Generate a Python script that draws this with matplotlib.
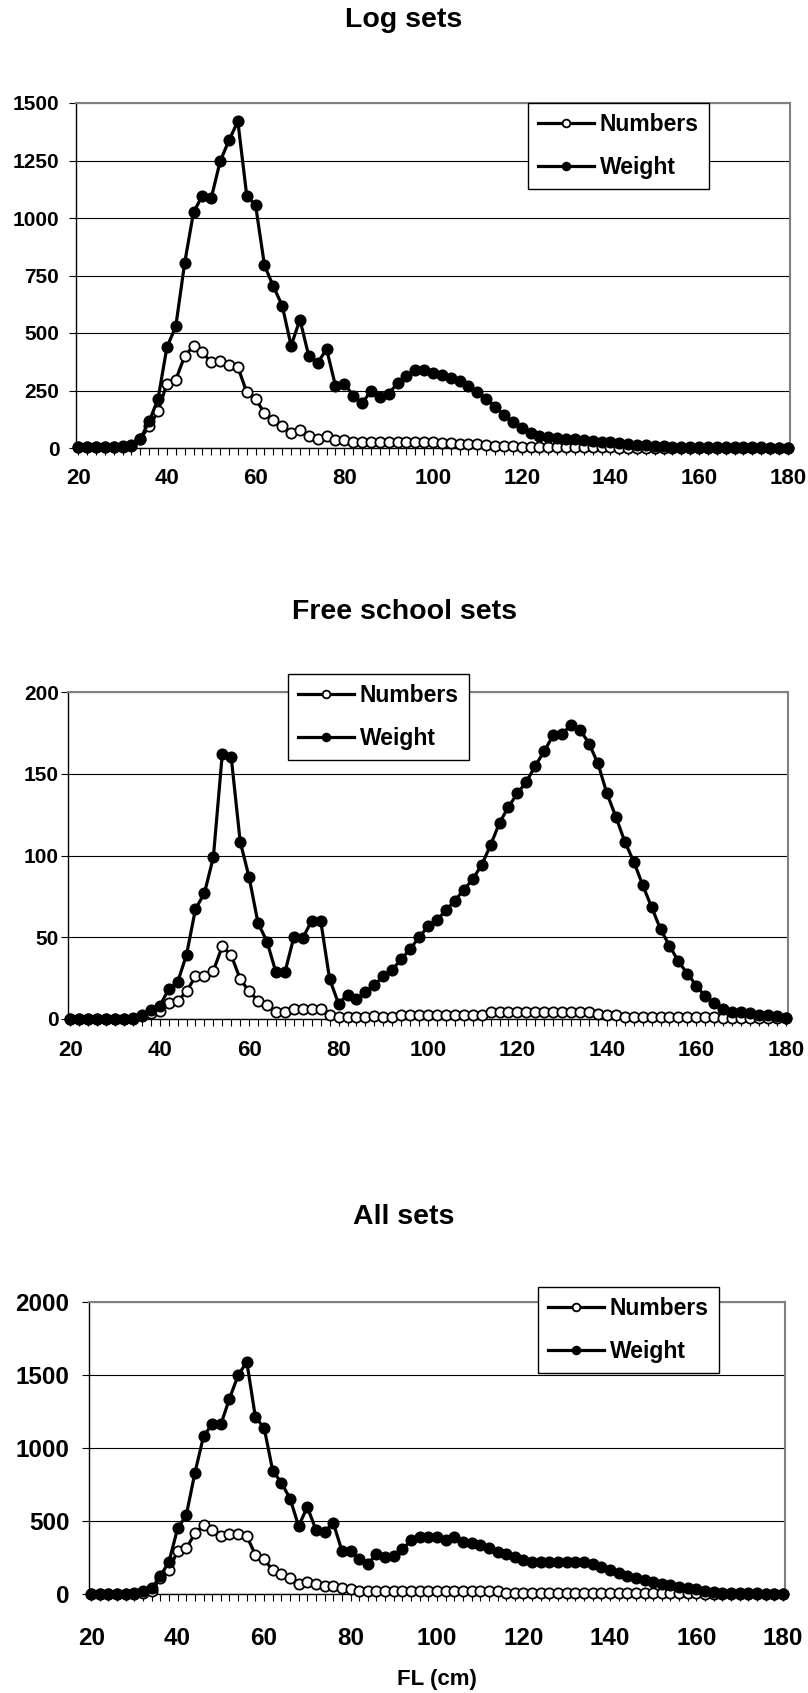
import matplotlib
matplotlib.use("Agg")
import matplotlib.pyplot as plt
from matplotlib.ticker import MultipleLocator

plt.rcParams["font.family"] = ["Liberation Sans", "DejaVu Sans"]
plt.rcParams["font.weight"] = "bold"

# fork length classes (cm)
fl = list(range(20, 181, 2))

log_numbers = [3, 3, 3, 3, 3, 4, 8, 40, 94, 160,
               280, 297, 399, 445, 416, 372, 377, 362, 352, 242,
               213, 152, 120, 94, 65, 77, 51, 39, 51, 33,
               33, 26, 25, 25, 25, 25, 25, 25, 25, 25,
               24, 22, 20, 18, 17, 16, 15, 10, 8, 7,
               6, 6, 5, 5, 5, 5, 4, 4, 4, 3,
               3, 2, 2, 2, 2, 2, 2, 2, 2, 2,
               2, 1, 1, 1, 1, 1, 1, 1, 1, 1, 1]
log_weight = [3, 3, 3, 3, 3, 7, 15, 39, 116, 213,
              438, 529, 804, 1025, 1097, 1087, 1246, 1338, 1420, 1097,
              1055, 794, 703, 619, 445, 558, 399, 370, 430, 271,
              280, 228, 196, 246, 222, 235, 283, 315, 338, 338,
              326, 316, 304, 290, 270, 245, 215, 180, 145, 112,
              85, 65, 52, 46, 43, 40, 37, 34, 31, 27,
              24, 20, 17, 14, 11, 9, 7, 6, 5, 5,
              4, 4, 4, 3, 3, 3, 3, 3, 2, 2, 2]

fs_numbers = [0, 0, 0, 0, 0, 0, 0, 0, 1.6, 3.7,
              4.7, 9.8, 10.8, 16.9, 26, 26, 29.5, 44.4, 39, 24.4,
              16.9, 11.2, 8.7, 4, 4, 6.3, 6.3, 6.3, 6.3, 2.6,
              1.2, 1.2, 1.2, 1.2, 1.6, 1.2, 1.2, 2.6, 2.6, 2.6,
              2.6, 2.6, 2.6, 2.6, 2.6, 2.6, 2.6, 4, 4, 4,
              4, 4, 4, 4, 4, 4, 4, 4, 4, 3,
              2.6, 2.6, 1.2, 1.2, 1.2, 1.2, 1.2, 1.2, 1.2, 1.2,
              1.2, 1, 1, 0.8, 0.8, 0.8, 0.8, 0.8, 0.8, 0.8, 0.6]
fs_weight = [0, 0, 0, 0, 0, 0, 0, 0.5, 2.6, 5.7,
             7.7, 18.3, 22.4, 39.3, 67.2, 76.9, 98.9, 162, 160, 108.5,
             86.7, 58.6, 47.4, 28.5, 28.5, 50, 49.5, 60.2, 60.2, 24.4,
             9.4, 14.9, 12.2, 16.3, 21, 26, 30, 36.6, 42.7, 50,
             56.6, 60.4, 66.5, 72.4, 79, 85.5, 94.2, 106.4, 120, 129.8,
             138, 145, 155, 163.8, 173.6, 174.6, 179.7, 177, 168.5, 156.3,
             138, 123.7, 108.5, 96.3, 82, 68.4, 54.9, 44.8, 35.2, 27.7,
             20.4, 13.8, 9.8, 6.1, 4.1, 4, 3.7, 2.6, 2.6, 1.6, 0.6]

all_numbers = [0, 0, 0, 0, 0, 0, 5, 23, 107, 164,
               296, 312, 415, 472, 438, 397, 410, 410, 397, 267,
               237, 164, 137, 107, 68, 84, 68, 55, 55, 39,
               32, 23, 20, 19, 19, 19, 19, 19, 19, 19,
               19, 19, 19, 19, 19, 19, 18, 18, 9, 9,
               9, 9, 9, 9, 9, 9, 9, 9, 9, 8,
               8, 8, 8, 8, 8, 8, 5, 5, 4, 4,
               4, 3, 3, 3, 3, 2, 2, 2, 2, 2, 2]
all_weight = [0, 0, 0, 0, 0, 4, 23, 39, 123, 221,
              449, 540, 830, 1081, 1163, 1161, 1339, 1498, 1590, 1209,
              1140, 844, 762, 654, 465, 597, 438, 426, 488, 296,
              296, 237, 205, 274, 251, 260, 305, 369, 392, 392,
              388, 369, 392, 358, 347, 335, 312, 290, 274, 255,
              233, 221, 221, 221, 221, 221, 221, 221, 205, 182,
              164, 141, 123, 107, 96, 84, 68, 62, 50, 39,
              32, 23, 16, 10, 8, 6, 5, 4, 3, 3, 2]

titles = ["Log sets", "Free school sets", "All sets"]
series = [(log_numbers, log_weight), (fs_numbers, fs_weight), (all_numbers, all_weight)]
y_max = [1500, 200, 2000]
y_step = [250, 50, 500]

W, H = 808, 1693
# axes boxes in pixels: left, top, right, bottom
boxes = [(76, 103, 790, 448), (68, 692, 788, 1019), (89, 1302, 785, 1594)]
legend_xy = [(528, 103), (288, 674), (538, 1287)]
title_y = [20, 612, 1217]
xpad = [9.5, 10.0, 18.5]
ypad = [7, 1.5, 9.0]
xsize = [16, 16, 17.5]
ysize = [15, 15, 17.5]

fig = plt.figure(figsize=(W / 100, H / 100), dpi=100)

for i in range(3):
    l, t, r, b = boxes[i]
    ax = fig.add_axes([l / W, 1 - b / H, (r - l) / W, (b - t) / H])
    nums, wts = series[i]
    ax.plot(fl, nums, color="black", lw=2.3, marker="o", ms=7.4, mfc="white",
            mec="black", mew=1.3, label="Numbers", clip_on=False, zorder=3)
    ax.plot(fl, wts, color="black", lw=2.3, marker="o", ms=7.4, mfc="black",
            mec="black", mew=1.3, label="Weight", clip_on=False, zorder=4)

    ax.set_xlim(19.5, 180.5)
    ax.set_ylim(0, y_max[i])
    ax.xaxis.set_major_locator(MultipleLocator(20))
    ax.xaxis.set_minor_locator(MultipleLocator(2))
    ax.yaxis.set_major_locator(MultipleLocator(y_step[i]))
    ax.yaxis.grid(True, color="black", lw=0.8)
    ax.set_axisbelow(True)

    for side in ["top", "right"]:
        ax.spines[side].set_color("#808080")
        ax.spines[side].set_linewidth(1.5)
    for side in ["left", "bottom"]:
        ax.spines[side].set_color("black")
        ax.spines[side].set_linewidth(1.0)

    ax.tick_params(axis="x", which="both", direction="out", length=5, width=0.8,
                   pad=xpad[i], labelsize=xsize[i])
    ax.tick_params(axis="y", which="major", direction="out", length=5, width=0.8,
                   pad=ypad[i], labelsize=ysize[i])
    for lab in ax.get_xticklabels() + ax.get_yticklabels():
        lab.set_fontweight("bold")

    lx, ly = legend_xy[i]
    leg = ax.legend(loc="upper left", bbox_to_anchor=(lx / W, 1 - ly / H),
                    bbox_transform=fig.transFigure, frameon=True, fancybox=False,
                    edgecolor="black", framealpha=1, borderpad=0.44,
                    labelspacing=0.88, handlelength=2.45, handletextpad=0.25,
                    borderaxespad=0, markerscale=0.75,
                    prop={"size": 16.5, "weight": "bold"})
    leg.get_frame().set_linewidth(1.0)

    fig.text(0.5, 1 - title_y[i] / H, titles[i], ha="center", va="center",
             fontsize=20.5, fontweight="bold")

fig.text(437 / W, 1 - 1680 / H, "FL (cm)", ha="center", va="center",
         fontsize=16, fontweight="bold")

fig.savefig("out.png", dpi=100)
